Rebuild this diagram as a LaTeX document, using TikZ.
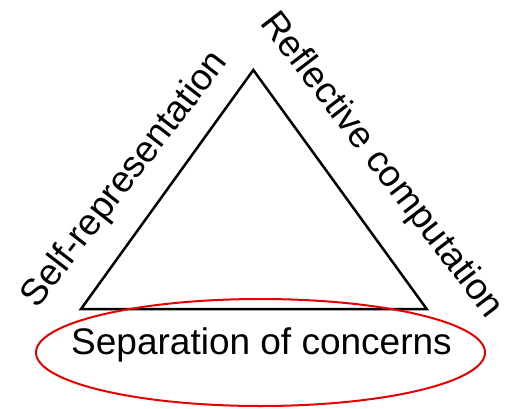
\documentclass[tikz,border=0pt]{standalone}
\usepackage{fontspec}
\setmainfont{Liberation Sans}
\usetikzlibrary{shapes.geometric}
\tikzset{
  tri/.style={draw=black, line width=2.5pt, line join=miter},
  lbl/.style={font=\fontsize{37}{40}\selectfont, inner sep=0pt, anchor=base},
  oval/.style={draw={rgb,255:red,230;green,0;blue,0}, line width=2pt, ellipse, inner sep=0pt,
    minimum width=449pt, minimum height=107pt}
}
\begin{document}
\begin{tikzpicture}[x=1pt,y=-1pt]
\useasboundingbox (0,0) rectangle (509,408);
\coordinate (A) at (253.3,70);
\coordinate (B) at (81,309);
\coordinate (C) at (426.7,309);
\draw[tri] (A) -- (B) -- (C) -- cycle;
\node[oval] (soc) at (260.5,352.5) {};
\node[lbl] (sep) at (261.5,354) {Separation of concerns};
\node[lbl, rotate=52.3] (self) at (133,185.5) {Self-representation};
\node[lbl, rotate=-52.5] (refl) at (373.5,171.5) {Reflective computation};
\end{tikzpicture}
\end{document}
